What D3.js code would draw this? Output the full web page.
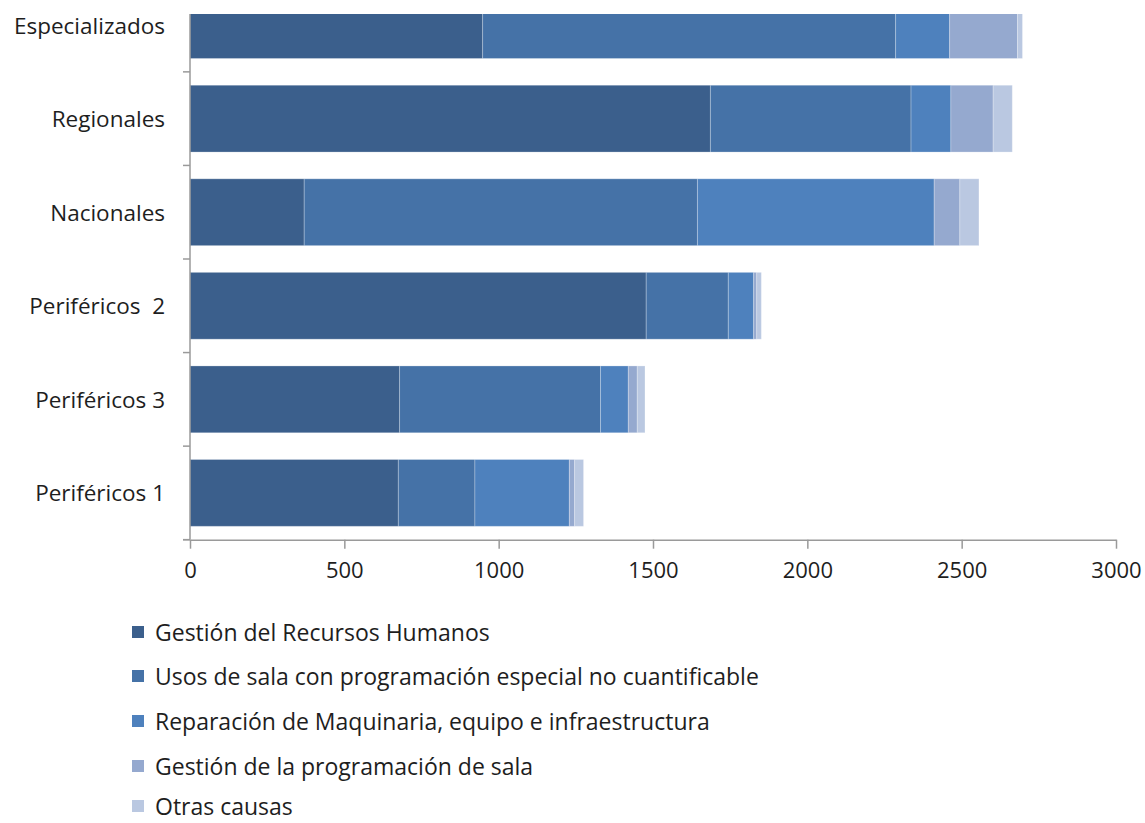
<!DOCTYPE html>
<html><head><meta charset="utf-8">
<script src="https://cdn.jsdelivr.net/npm/d3@7"></script>
<style>
html,body{margin:0;padding:0;background:#fff;}
text{font-family:"Open Sans",sans-serif;fill:#1e1e1e;}
</style></head>
<body><svg id="c" width="1145" height="823"></svg>
<script>
const categories = ["Especializados","Regionales","Nacionales","Periféricos  2","Periféricos 3","Periféricos 1"];
const seriesNames = ["Gestión del Recursos Humanos","Usos de sala con programación especial no cuantificable","Reparación de Maquinaria, equipo e infraestructura","Gestión de la programación de sala","Otras causas"];
const recursosHumanos = [948,1686,370,1478,679,675];
const usosSala        = [1338,650,1274,266,651,248];
const reparacion      = [175,129,767,82,90,306];
const programacion    = [220,137,83,10,29,17];
const otras           = [16,62,62,15,25,29];
const xTicks = [0,500,1000,1500,2000,2500,3000];
const colors = ["#3B5F8C","#4572A7","#4E81BD","#95A9CF","#BAC8E1"];

const seriesValues = [recursosHumanos,usosSala,reparacion,programacion,otras];
const rows = categories.map((c,i)=>{const r={cat:c}; seriesNames.forEach((s,j)=>r[s]=seriesValues[j][i]); return r;});
const stack = d3.stack().keys(seriesNames)(rows);

const svg = d3.select("#c");
const x0=190, x1=1116, yTop=-21.7, yBot=539.7;
const x = d3.scaleLinear().domain([0,3000]).range([x0,x1]);
const y = d3.scaleBand().domain(categories).range([yTop,yBot]).paddingInner(0.286).paddingOuter(0.143);

svg.append("defs").append("clipPath").attr("id","clip").append("rect")
  .attr("x",0).attr("y",14).attr("width",1145).attr("height",823);

const plot = svg.append("g").attr("clip-path","url(#clip)");
plot.selectAll("g.s").data(stack).join("g").attr("class","s")
  .attr("fill",(d,i)=>colors[i])
  .selectAll("rect").data(d=>d).join("rect")
  .attr("x",d=>x(d[0])).attr("width",d=>x(d[1])-x(d[0]))
  .attr("y",d=>y(d.data.cat)).attr("height",y.bandwidth())
  .attr("stroke","#ffffff").attr("stroke-opacity",0.25).attr("stroke-width",1);

// y axis
const axisColor="#9a9a9a";
plot.append("line").attr("x1",x0).attr("x2",x0).attr("y1",yTop).attr("y2",yBot).attr("stroke",axisColor).attr("stroke-width",1.5);
const bounds = d3.range(categories.length+1).map(i=>yTop+i*y.step());
plot.selectAll("line.yt").data(bounds.slice(1)).join("line").attr("class","yt")
  .attr("x1",x0-7).attr("x2",x0).attr("y1",d=>d).attr("y2",d=>d).attr("stroke",axisColor).attr("stroke-width",1.5);
svg.selectAll("text.yl").data(categories).join("text").attr("class","yl")
  .attr("x",165).attr("y",d=>y(d)+y.bandwidth()/2).attr("text-anchor","end").attr("dominant-baseline","central")
  .attr("font-size",22.5).style("white-space","pre").text(d=>d);

// x axis
const xAxis = d3.axisBottom(x).tickValues(xTicks).tickFormat(d3.format("d")).tickSize(9).tickPadding(14).tickSizeOuter(0);
const gx = svg.append("g").attr("transform",`translate(0,${yBot})`).call(xAxis);
gx.select(".domain").attr("stroke",axisColor).attr("stroke-width",1.5);
gx.selectAll(".tick line").attr("stroke",axisColor).attr("stroke-width",1.5);
gx.selectAll(".tick text").attr("font-size",22).attr("font-family","'Open Sans',sans-serif").attr("fill","#1e1e1e");
svg.append("line").attr("x1",x0-7).attr("x2",x0).attr("y1",yBot).attr("y2",yBot).attr("stroke",axisColor).attr("stroke-width",1.5);

// legend
const lg = svg.append("g");
const ly = [632,676,721,766,806];
seriesNames.forEach((s,i)=>{
  lg.append("rect").attr("x",132).attr("y",ly[i]-6).attr("width",12).attr("height",12).attr("fill",colors[i]);
  lg.append("text").attr("x",155).attr("y",ly[i]).attr("dominant-baseline","central").attr("font-size",23).text(s);
});
</script></body></html>
